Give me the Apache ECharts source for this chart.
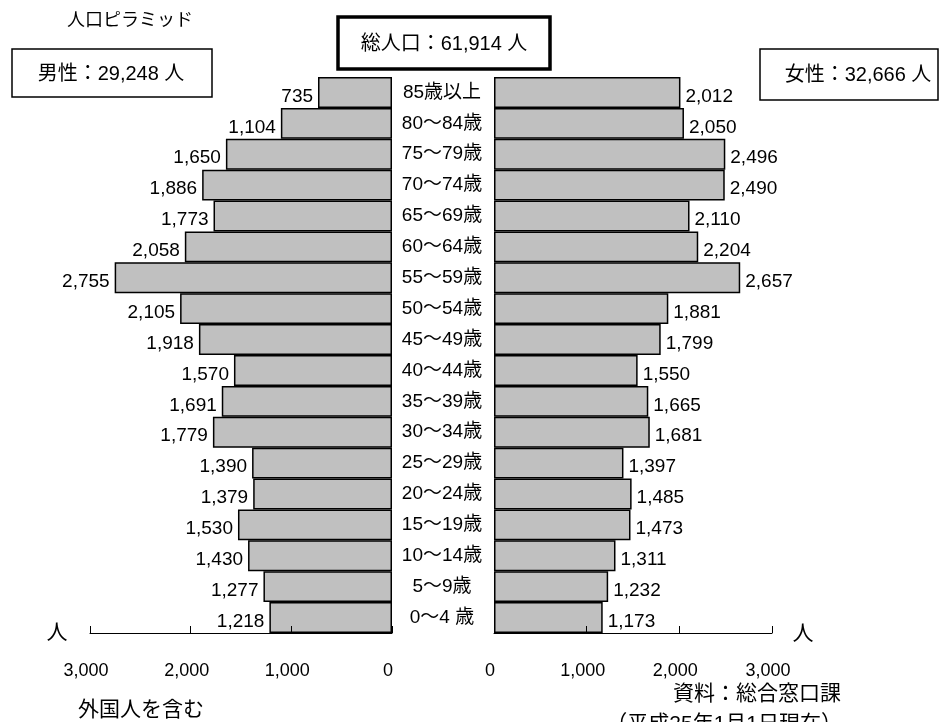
<!DOCTYPE html>
<html>
<head>
<meta charset="utf-8">
<script src="https://cdn.jsdelivr.net/npm/echarts@6/dist/echarts.min.js"></script>
<style>
html,body{margin:0;padding:0;background:#fff;}
#chart{width:950px;height:722px;}
</style>
</head>
<body>
<div id="chart"></div>
<script>
// Age groups, top to bottom
var categories = ['85歳以上','80～84歳','75～79歳','70～74歳','65～69歳','60～64歳','55～59歳','50～54歳','45～49歳','40～44歳','35～39歳','30～34歳','25～29歳','20～24歳','15～19歳','10～14歳','5～9歳','0～4 歳'];
var male   = [735,1104,1650,1886,1773,2058,2755,2105,1918,1570,1691,1779,1390,1379,1530,1430,1277,1218];
var female = [2012,2050,2496,2490,2110,2204,2657,1881,1799,1550,1665,1681,1397,1485,1473,1311,1232,1173];
var tickValues = [0,1000,2000,3000];

var FONT = "'Liberation Sans', 'Noto Sans CJK JP', sans-serif";
function fmt(v){ return String(v).replace(/\B(?=(\d{3})+(?!\d))/g, ','); }

var chart = echarts.init(document.getElementById('chart'), null, {renderer:'canvas'});

var barStyle = {color:'#c0c0c0', borderColor:'#000', borderWidth:1.5};
var xAxisCommon = {
  type:'value', min:tickValues[0], max:tickValues[tickValues.length-1], interval:1000, z:5,
  axisLine:{show:true, lineStyle:{color:'#000', width:1}},
  axisTick:{show:true, inside:true, length:7, lineStyle:{color:'#000', width:1}},
  splitLine:{show:false},
  axisLabel:{color:'#000', fontSize:18, fontFamily:FONT, margin:29, padding:[0,8,0,0], formatter:function(v){return fmt(v);}}
};

var option = {
  backgroundColor:'#fff',
  animation:false,
  textStyle:{fontFamily:FONT},
  grid:[
    {left:90, top:77, width:302, height:556},
    {left:494, top:77, width:278, height:556}
  ],
  xAxis:[
    Object.assign({}, xAxisCommon, {gridIndex:0, inverse:true}),
    Object.assign({}, xAxisCommon, {gridIndex:1})
  ],
  yAxis:[
    {type:'category', gridIndex:0, data:categories, inverse:true, position:'right',
     axisLine:{show:false}, axisTick:{show:false}, splitLine:{show:false},
     axisLabel:{color:'#000', fontSize:19, fontFamily:FONT, margin:50, align:'center'}},
    {type:'category', gridIndex:1, data:categories, inverse:true,
     axisLine:{show:false}, axisTick:{show:false}, splitLine:{show:false}, axisLabel:{show:false}}
  ],
  series:[
    {type:'bar', xAxisIndex:0, yAxisIndex:0, data:male, barCategoryGap:'0%', itemStyle:barStyle,
     label:{show:true, position:'left', distance:5, offset:[0,4], color:'#000', fontSize:19, fontFamily:FONT,
            formatter:function(p){return fmt(p.value);}}},
    {type:'bar', xAxisIndex:1, yAxisIndex:1, data:female, barCategoryGap:'0%', itemStyle:barStyle,
     label:{show:true, position:'right', distance:5, offset:[0,4], color:'#000', fontSize:19, fontFamily:FONT,
            formatter:function(p){return fmt(p.value);}}}
  ],
  graphic:[
    {type:'text', style:{text:'人口ピラミッド', x:130, y:21, align:'center', verticalAlign:'middle', font:'18px '+FONT, fill:'#000'}},
    {type:'rect', shape:{x:12, y:49, width:200, height:48}, style:{fill:'#fff', stroke:'#000', lineWidth:1.5}},
    {type:'text', style:{text:'男性：29,248 人', x:111, y:74, align:'center', verticalAlign:'middle', font:'20px '+FONT, fill:'#000'}},
    {type:'rect', shape:{x:338, y:17, width:212, height:52}, style:{fill:'#fff', stroke:'#000', lineWidth:3.5}},
    {type:'text', style:{text:'総人口：61,914 人', x:444, y:44, align:'center', verticalAlign:'middle', font:'20px '+FONT, fill:'#000'}},
    {type:'rect', shape:{x:760, y:49, width:178, height:51}, style:{fill:'#fff', stroke:'#000', lineWidth:1.5}},
    {type:'text', style:{text:'女性：32,666 人', x:858, y:75, align:'center', verticalAlign:'middle', font:'20px '+FONT, fill:'#000'}},
    {type:'text', style:{text:'人', x:57, y:633, align:'center', verticalAlign:'middle', font:'21px '+FONT, fill:'#000'}},
    {type:'text', style:{text:'人', x:803, y:634, align:'center', verticalAlign:'middle', font:'21px '+FONT, fill:'#000'}},
    {type:'text', style:{text:'外国人を含む', x:141, y:710, align:'center', verticalAlign:'middle', font:'21px '+FONT, fill:'#000'}},
    {type:'text', style:{text:'資料：総合窓口課', x:841, y:694, align:'right', verticalAlign:'middle', font:'21px '+FONT, fill:'#000'}},
    {type:'text', style:{text:'（平成25年1月1日現在）', x:842, y:714, align:'right', verticalAlign:'top', font:'21px '+FONT, fill:'#000'}}
  ]
};
chart.setOption(option);
</script>
</body>
</html>
